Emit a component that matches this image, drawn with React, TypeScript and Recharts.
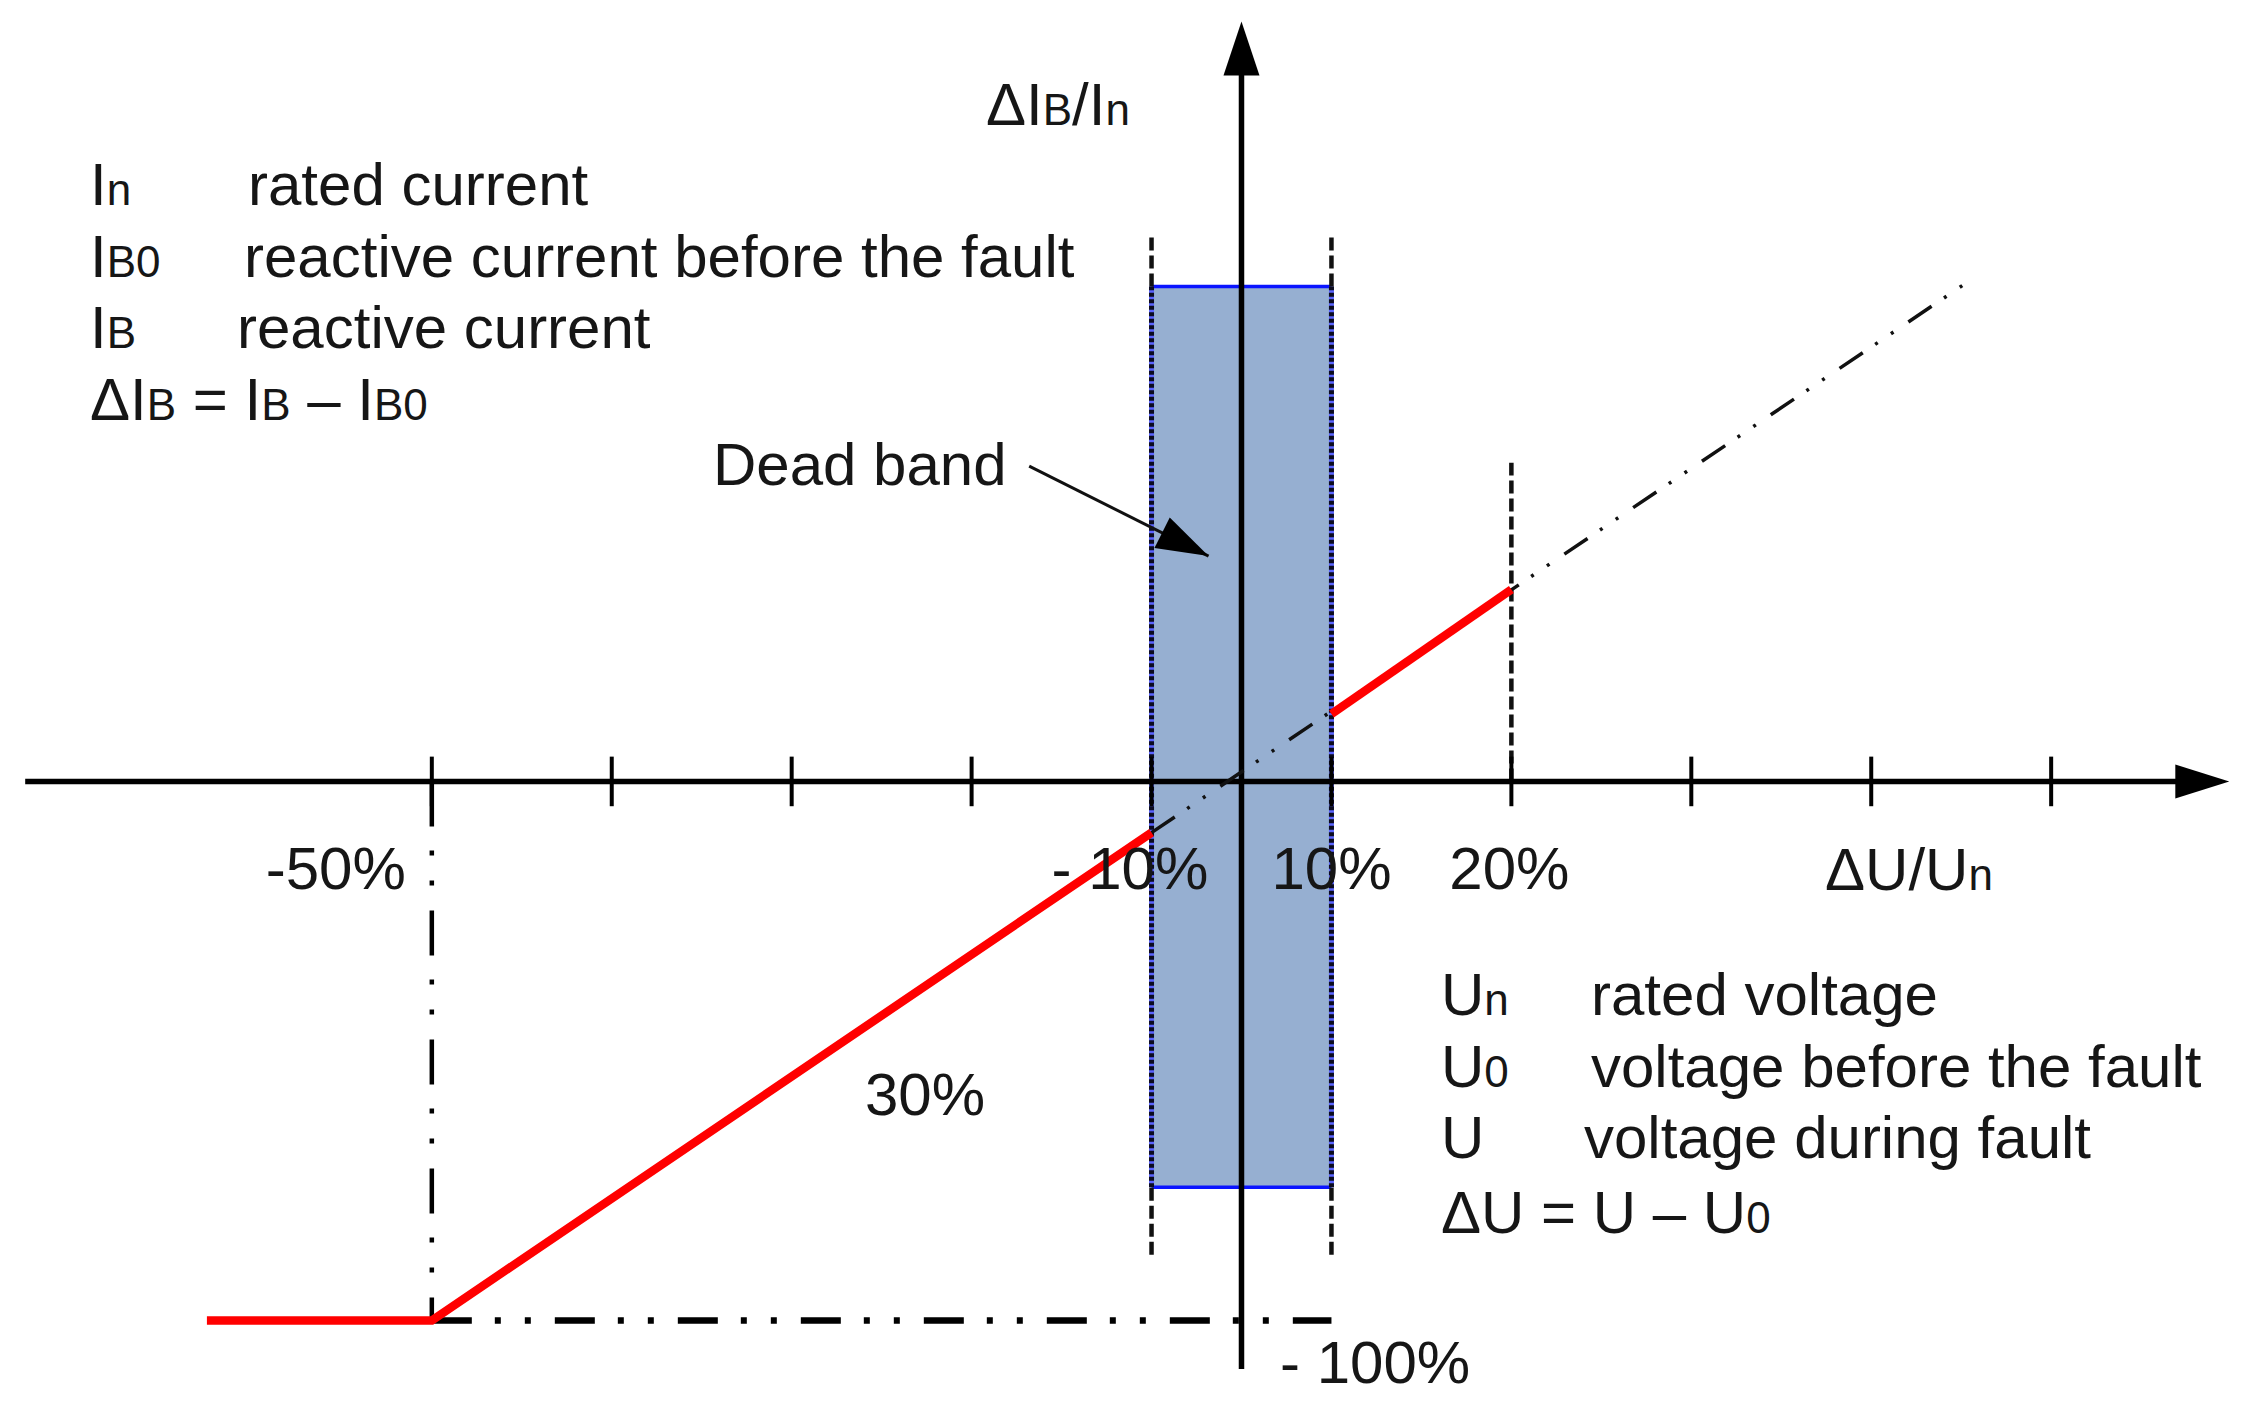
import React from 'react';
import {
  ComposedChart,
  XAxis,
  YAxis,
  Line,
  Scatter,
  ReferenceLine,
  ReferenceArea,
  ReferenceDot,
} from 'recharts';

const WIDTH = 2248;
const HEIGHT = 1411;

// Horizontal axis in diagram tick units (10 units per tick; dead band is drawn compressed),
// vertical axis in % of rated current.
const xDomain = [-69.0, 55.94];
const yDomain = [-116.8, 144.97];

const characteristicLow = [
  { x: -57.5, y: -100 },
  { x: -45, y: -100 },
  { x: -5, y: -9.5 },
];
const characteristicHigh = [
  { x: 5, y: 12.5 },
  { x: 15, y: 35.6 },
];
const proportionalExtension = [
  { x: -5, y: -9.5 },
  { x: 40.2, y: 92.3 },
];
const tickPositions = [-45, -35, -25, -15, -5, 5, 15, 25, 35, 45];
const tickLabels = ['-50%', '', '', '', '- 10%', '10%', '20%', '', '', ''];
const deadBandX = [-5, 5];
const deadBandY = [-75.3, 91.8];
const deadBandMarkerY = [-87.8, 101.1];
const limit20X = 15;
const limit20Y = [0, 59.1];
const saturationX = -45;
const saturationY = -100;
const axisXRange = [-67.6, 54.9];
const axisYRange = [-109, 141];
const pointer = [
  { x: -11.8, y: 58.5 },
  { x: -1.83, y: 41.8 },
];

const FONT = '"Liberation Sans", Arial, sans-serif';
const TXT = '#161616';
const FS = 60;
const SUB = 44;

const tickLabelLayout: Record<string, { dx: number; anchor: 'start' | 'middle' | 'end' }> = {
  '-50%': { dx: -26, anchor: 'end' },
  '- 10%': { dx: -100, anchor: 'start' },
  '10%': { dx: 0, anchor: 'middle' },
  '20%': { dx: -2, anchor: 'middle' },
};

const Sub = ({ children }: { children: React.ReactNode }) => (
  <tspan fontSize={SUB}>{children}</tspan>
);

const arrowRight = (p: any) => (
  <path d={`M${p.cx},${p.cy} L${p.cx - 54},${p.cy - 17} L${p.cx - 54},${p.cy + 17} Z`} fill="#000" />
);
const arrowUp = (p: any) => (
  <path d={`M${p.cx},${p.cy} L${p.cx - 18},${p.cy + 54} L${p.cx + 18},${p.cy + 54} Z`} fill="#000" />
);
const arrowPointer = (p: any) => (
  <path
    d="M0,0 L-52,-17 L-52,17 Z"
    transform={`translate(${p.cx},${p.cy}) rotate(26.7)`}
    fill="#000"
  />
);

export default function App() {
  return (
    <div style={{ position: 'absolute', left: 0, top: 0, width: WIDTH, height: HEIGHT, background: '#fff' }}>
      <ComposedChart width={WIDTH} height={HEIGHT} margin={{ top: 0, right: 0, bottom: 0, left: 0 }}>
        <XAxis type="number" dataKey="x" domain={xDomain} hide allowDataOverflow />
        <YAxis type="number" dataKey="y" domain={yDomain} hide allowDataOverflow />

        {/* dead band */}
        <ReferenceArea
          x1={deadBandX[0]}
          x2={deadBandX[1]}
          y1={deadBandY[0]}
          y2={deadBandY[1]}
          fill="#96afd1"
          fillOpacity={1}
          stroke="none"
        />
        <ReferenceLine
          segment={[{ x: deadBandX[0], y: deadBandY[1] }, { x: deadBandX[1], y: deadBandY[1] }]}
          stroke="#0a14ff"
          strokeWidth={3.5}
        />
        <ReferenceLine
          segment={[{ x: deadBandX[0], y: deadBandY[0] }, { x: deadBandX[1], y: deadBandY[0] }]}
          stroke="#0a14ff"
          strokeWidth={3.5}
        />
        {deadBandX.map((x) => (
          <ReferenceLine
            key={'dbb' + x}
            segment={[{ x, y: deadBandY[0] }, { x, y: deadBandY[1] }]}
            stroke="#5a64ff"
            strokeWidth={5}
          />
        ))}
        {deadBandX.map((x) => (
          <ReferenceLine
            key={'dbi' + x}
            segment={[{ x, y: deadBandY[0] }, { x, y: deadBandY[1] }]}
            stroke="#0b0b1e"
            strokeWidth={5}
            strokeDasharray="4 2.5"
          />
        ))}
        {deadBandX.map((x) => (
          <ReferenceLine
            key={'dbu' + x}
            segment={[{ x, y: deadBandY[1] }, { x, y: deadBandMarkerY[1] }]}
            stroke="#111"
            strokeWidth={4.5}
            strokeDasharray="13 5"
          />
        ))}
        {deadBandX.map((x) => (
          <ReferenceLine
            key={'dbl' + x}
            segment={[{ x, y: deadBandMarkerY[0] }, { x, y: deadBandY[0] }]}
            stroke="#111"
            strokeWidth={4.5}
            strokeDasharray="13 5"
          />
        ))}
        <ReferenceLine
          segment={[{ x: limit20X, y: limit20Y[0] }, { x: limit20X, y: limit20Y[1] }]}
          stroke="#111"
          strokeWidth={4.5}
          strokeDasharray="13 5"
        />

        {/* saturation guides */}
        <ReferenceLine
          segment={[{ x: saturationX, y: 0 }, { x: saturationX, y: saturationY }]}
          stroke="#000"
          strokeWidth={4.5}
          strokeDasharray="45 24 5 25 5 25"
        />
        <ReferenceLine
          segment={[{ x: saturationX, y: saturationY }, { x: deadBandX[1], y: saturationY }]}
          stroke="#000"
          strokeWidth={6.5}
          strokeDasharray="40 23 6 24 6 24"
        />

        {/* axes */}
        <ReferenceLine
          segment={[{ x: axisXRange[0], y: 0 }, { x: axisXRange[1] - 2, y: 0 }]}
          stroke="#000"
          strokeWidth={5.5}
        />
        <ReferenceLine
          segment={[{ x: 0, y: axisYRange[0] }, { x: 0, y: axisYRange[1] - 8 }]}
          stroke="#000"
          strokeWidth={5.5}
        />
        {tickPositions.map((t) => (
          <ReferenceLine
            key={'t' + t}
            segment={[{ x: t, y: -4.6 }, { x: t, y: 4.6 }]}
            stroke="#000"
            strokeWidth={4}
          />
        ))}
        <Scatter
          data={[{ x: axisXRange[1], y: 0 }]}
          shape={arrowRight}
          isAnimationActive={false}
        />
        <Scatter
          data={[{ x: 0, y: axisYRange[1] }]}
          shape={arrowUp}
          isAnimationActive={false}
        />

        {/* proportional extension */}
        <Line
          data={proportionalExtension}
          dataKey="y"
          type="linear"
          stroke="#111"
          strokeWidth={3.5}
          strokeDasharray="28 15 3 16 3 18"
          dot={false}
          activeDot={false}
          isAnimationActive={false}
        />

        {/* characteristic */}
        <Line
          data={characteristicLow}
          dataKey="y"
          type="linear"
          stroke="#ff0000"
          strokeWidth={8.5}
          dot={false}
          activeDot={false}
          isAnimationActive={false}
        />
        <Line
          data={characteristicHigh}
          dataKey="y"
          type="linear"
          stroke="#ff0000"
          strokeWidth={8.5}
          dot={false}
          activeDot={false}
          isAnimationActive={false}
        />

        {/* dead band pointer */}
        <ReferenceLine segment={pointer} stroke="#111" strokeWidth={3} />
        <Scatter data={[pointer[1]]} shape={arrowPointer} isAnimationActive={false} />

        {/* tick labels */}
        {tickPositions.map((t, i) =>
          tickLabels[i] ? (
            <ReferenceDot
              key={'tl' + t}
              x={t}
              y={0}
              r={0}
              shape={(p: any) => {
                const l = tickLabelLayout[tickLabels[i]];
                return (
                  <text
                    x={p.cx + l.dx}
                    y={p.cy + 108}
                    textAnchor={l.anchor}
                    fontFamily={FONT}
                    fontSize={FS}
                    fill={TXT}
                  >
                    {tickLabels[i]}
                  </text>
                );
              }}
            />
          ) : null
        )}
      </ComposedChart>

      <svg
        width={WIDTH}
        height={HEIGHT}
        style={{ position: 'absolute', left: 0, top: 0, pointerEvents: 'none' }}
        fontFamily={FONT}
        fontSize={FS}
        fill={TXT}
      >
        <text x={986} y={125}>
          ΔI<Sub>B</Sub>/I<Sub>n</Sub>
        </text>

        <text x={90} y={205}>
          I<Sub>n</Sub>
        </text>
        <text x={248} y={205}>rated current</text>
        <text x={90} y={277}>
          I<Sub>B0</Sub>
        </text>
        <text x={244} y={277}>reactive current before the fault</text>
        <text x={90} y={348}>
          I<Sub>B</Sub>
        </text>
        <text x={237} y={348}>reactive current</text>
        <text x={90} y={420}>
          ΔI<Sub>B</Sub> = I<Sub>B</Sub> – I<Sub>B0</Sub>
        </text>

        <text x={713} y={485}>Dead band</text>
        <text x={865} y={1115}>30%</text>
        <text x={1825} y={890}>
          ΔU/U<Sub>n</Sub>
        </text>
        <text x={1280} y={1383}>- 100%</text>

        <text x={1441} y={1015}>
          U<Sub>n</Sub>
        </text>
        <text x={1591} y={1015}>rated voltage</text>
        <text x={1441} y={1087}>
          U<Sub>0</Sub>
        </text>
        <text x={1591} y={1087}>voltage before the fault</text>
        <text x={1441} y={1158}>U</text>
        <text x={1584} y={1158}>voltage during fault</text>
        <text x={1441} y={1233}>
          ΔU = U – U<Sub>0</Sub>
        </text>
      </svg>
    </div>
  );
}
